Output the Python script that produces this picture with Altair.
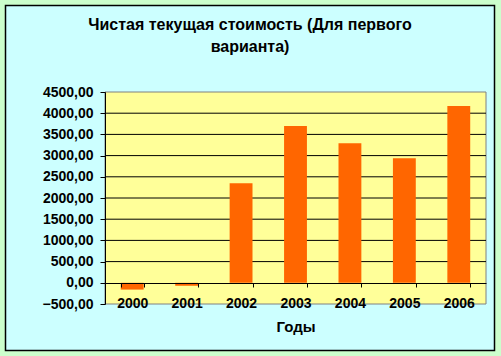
import altair as alt
import pandas as pd

years = ["2000", "2001", "2002", "2003", "2004", "2005", "2006"]
values = [-160, -70, 2350, 3700, 3290, 2940, 4170]
tick_values = [-500, 0, 500, 1000, 1500, 2000, 2500, 3000, 3500, 4000, 4500]
grid_values = [500, 1000, 1500, 2000, 2500, 3000, 3500, 4000]
title_lines = ["Чистая текущая стоимость (Для первого", "варианта)"]
x_title = "Годы"

FONT = "Liberation Sans"
W, H = 381, 212

df = pd.DataFrame({"Год": years, "Значение": values})
grid_df = pd.DataFrame({"g": grid_values})
one = alt.Data(values=[{"a": 1}])

yscale = alt.Scale(domain=[-500, 4500], nice=False)
y_axis = alt.Axis(
    title=None, values=tick_values, tickSize=5, tickColor="black", domainColor="black",
    grid=False, labelExpr="replace(format(datum.value, '.2f'), '.', ',')",
    labelFont=FONT, labelFontSize=14, labelFontWeight="bold", labelColor="black",
    labelPadding=7, zindex=1,
)

panel = alt.Chart(one).mark_rect(fill="#CCFFFF", stroke="black", strokeWidth=1.5).encode(
    x=alt.value(-99.5), x2=alt.value(389.5), y=alt.value(-86.5), y2=alt.value(258.5)
)
plotbg = alt.Chart(one).mark_rect(fill="#FFFF99", stroke="#808080", strokeWidth=1).encode(
    x=alt.value(0), x2=alt.value(W), y=alt.value(0), y2=alt.value(H)
)
grid = alt.Chart(grid_df).mark_rule(color="black", strokeWidth=1).encode(
    y=alt.Y("g:Q", scale=yscale, axis=y_axis)
)
bars = alt.Chart(df).mark_bar(color="#FF6600").encode(
    x=alt.X(
        "Год:N", sort=years,
        scale=alt.Scale(paddingInner=0.58, paddingOuter=0.29),
        axis=alt.Axis(
            title=x_title, labelAngle=0, offset=-21, tickBand="extent", tickSize=4,
            tickColor="black", domainColor="black", grid=False,
            labelFont=FONT, labelFontSize=14, labelFontWeight="bold", labelColor="black",
            labelPadding=9, titleFont=FONT, titleFontSize=15, titleFontWeight="bold",
            titleColor="black", titlePadding=9, zindex=1,
        ),
    ),
    y=alt.Y("Значение:Q", scale=yscale, axis=y_axis),
    y2=alt.datum(0),
)

chart = alt.layer(panel, plotbg, grid, bars).properties(
    width=W, height=H,
    title=alt.TitleParams(
        text=title_lines, font=FONT, fontSize=16, fontWeight="bold", color="black",
        anchor="middle", dx=-45.5, dy=60, lineHeight=22, offset=10, zindex=1,
    ),
    autosize=alt.AutoSizeParams(type="none"),
    padding={"left": 105, "top": 92, "right": 15, "bottom": 52},
    background="#CCFFCC",
).configure_view(stroke=None)

chart.save("out.html", embed_options={"renderer": "svg", "actions": False})
